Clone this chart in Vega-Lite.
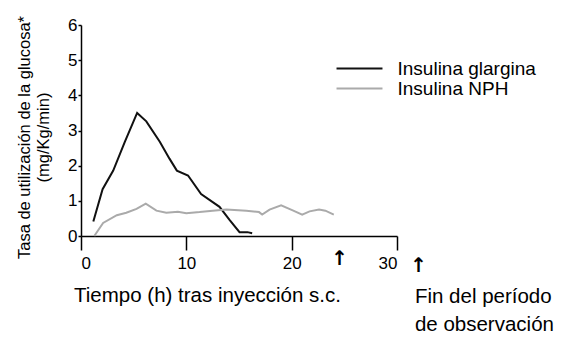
{
  "$schema": "https://vega.github.io/schema/vega-lite/v6.json",
  "width": 316,
  "height": 211,
  "autosize": {"type": "none"},
  "padding": {"left": 81, "top": 25, "right": 164, "bottom": 124},
  "config": {
    "view": {"stroke": null},
    "font": "Liberation Sans",
    "axis": {"grid": false, "domainColor": "#000", "tickColor": "#000", "labelColor": "#000", "titleColor": "#000", "titleFontWeight": "normal", "domainWidth": 1.5, "tickWidth": 1.5, "labelOverlap": false},
    "legend": {"labelColor": "#000"}
  },
  "encoding": {
    "x": {"field": "t", "type": "quantitative", "scale": {"domain": [0, 30], "nice": false},
      "axis": {"values": [0, 10, 20, 30], "tickSize": 14, "labelFontSize": 17, "labelPadding": 5, "labelOverlap": false,
        "title": "Tiempo (h) tras inyección s.c.", "titleFontSize": 20.5, "titleX": 126, "titleY": 59, "titleAlign": "center", "titleBaseline": "middle"}},
    "y": {"field": "v", "type": "quantitative", "scale": {"domain": [0, 6], "nice": false},
      "axis": {"values": [0, 1, 2, 3, 4, 5, 6], "tickSize": 3, "labelFontSize": 17, "labelPadding": 1, "labelOverlap": false, "labelFlush": false,
        "title": ["Tasa de utilización de la glucosa*", "(mg/Kg/min)"], "titleFontSize": 16.5, "titleAngle": -90, "titleX": -57, "titleY": 112, "titleAlign": "center", "titleBaseline": "middle", "titleLineHeight": 19}}
  },
  "layer": [
    {
      "data": {"values": [
        {"t": 1.17, "v": 0.41, "s": "Insulina glargina"},
        {"t": 2.05, "v": 1.33, "s": "Insulina glargina"},
        {"t": 3.06, "v": 1.86, "s": "Insulina glargina"},
        {"t": 4.16, "v": 2.68, "s": "Insulina glargina"},
        {"t": 5.33, "v": 3.5, "s": "Insulina glargina"},
        {"t": 6.2, "v": 3.26, "s": "Insulina glargina"},
        {"t": 7.48, "v": 2.68, "s": "Insulina glargina"},
        {"t": 8.4, "v": 2.2, "s": "Insulina glargina"},
        {"t": 9.1, "v": 1.86, "s": "Insulina glargina"},
        {"t": 10.16, "v": 1.72, "s": "Insulina glargina"},
        {"t": 11.4, "v": 1.19, "s": "Insulina glargina"},
        {"t": 13.15, "v": 0.83, "s": "Insulina glargina"},
        {"t": 14.1, "v": 0.46, "s": "Insulina glargina"},
        {"t": 15.05, "v": 0.11, "s": "Insulina glargina"},
        {"t": 15.8, "v": 0.11, "s": "Insulina glargina"},
        {"t": 16.25, "v": 0.08, "s": "Insulina glargina"},
        {"t": 1.26, "v": 0.0, "s": "Insulina NPH"},
        {"t": 2.1, "v": 0.37, "s": "Insulina NPH"},
        {"t": 3.4, "v": 0.59, "s": "Insulina NPH"},
        {"t": 4.3, "v": 0.66, "s": "Insulina NPH"},
        {"t": 5.27, "v": 0.77, "s": "Insulina NPH"},
        {"t": 6.15, "v": 0.92, "s": "Insulina NPH"},
        {"t": 7.16, "v": 0.72, "s": "Insulina NPH"},
        {"t": 8.1, "v": 0.66, "s": "Insulina NPH"},
        {"t": 9.2, "v": 0.69, "s": "Insulina NPH"},
        {"t": 10.0, "v": 0.65, "s": "Insulina NPH"},
        {"t": 11.26, "v": 0.68, "s": "Insulina NPH"},
        {"t": 12.5, "v": 0.72, "s": "Insulina NPH"},
        {"t": 13.8, "v": 0.75, "s": "Insulina NPH"},
        {"t": 15.7, "v": 0.72, "s": "Insulina NPH"},
        {"t": 16.9, "v": 0.68, "s": "Insulina NPH"},
        {"t": 17.2, "v": 0.61, "s": "Insulina NPH"},
        {"t": 17.9, "v": 0.75, "s": "Insulina NPH"},
        {"t": 19.0, "v": 0.87, "s": "Insulina NPH"},
        {"t": 20.1, "v": 0.73, "s": "Insulina NPH"},
        {"t": 21.0, "v": 0.61, "s": "Insulina NPH"},
        {"t": 21.7, "v": 0.7, "s": "Insulina NPH"},
        {"t": 22.6, "v": 0.75, "s": "Insulina NPH"},
        {"t": 23.2, "v": 0.72, "s": "Insulina NPH"},
        {"t": 24.0, "v": 0.61, "s": "Insulina NPH"}
      ]},
      "mark": {"type": "line", "strokeWidth": 2, "clip": false},
      "encoding": {
        "color": {"field": "s", "type": "nominal", "title": null,
          "scale": {"domain": ["Insulina glargina", "Insulina NPH"], "range": ["#111111", "#aaaaaa"]},
          "legend": {"orient": "none", "legendX": 269, "legendY": 34, "symbolType": "M-4,0H4", "symbolSize": 132, "symbolStrokeWidth": 2, "labelFontSize": 19, "labelOffset": 28.5, "rowPadding": -1}}
      }
    },
    {
      "data": {"values": [
        {"t": 24.55, "v": -0.65, "label": "↑"},
        {"t": 32.05, "v": -0.85, "label": "↑"}
      ]},
      "mark": {"type": "text", "fontSize": 20, "font": "DejaVu Sans", "fontWeight": "bold", "align": "center", "baseline": "middle", "clip": false, "color": "#000"},
      "encoding": {
        "text": {"field": "label"}
      }
    },
    {
      "data": {"values": [
        {"t": 31.7, "v": -1.73, "label": "Fin del período"},
        {"t": 31.7, "v": -2.53, "label": "de observación"}
      ]},
      "mark": {"type": "text", "fontSize": 20.5, "align": "left", "baseline": "middle", "clip": false, "color": "#000"},
      "encoding": {
        "text": {"field": "label"}
      }
    }
  ]
}
